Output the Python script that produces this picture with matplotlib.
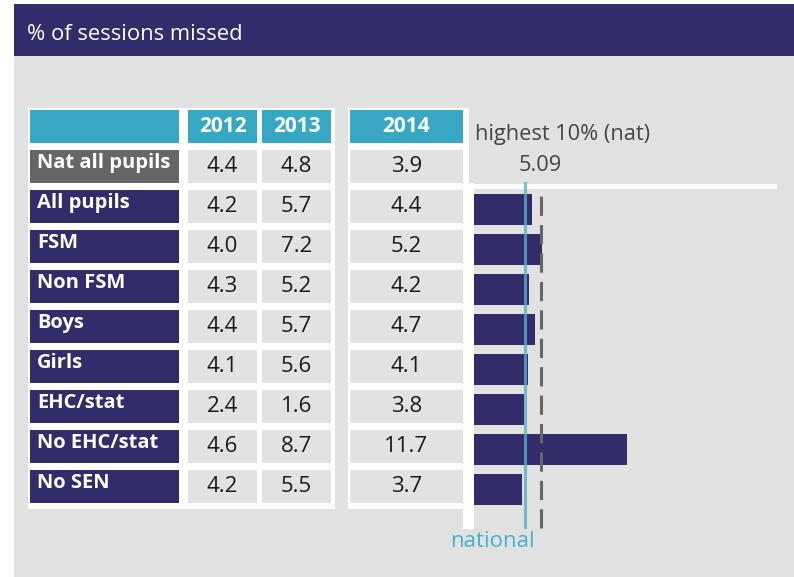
import matplotlib.pyplot as plt
from matplotlib.patches import Rectangle
from matplotlib.transforms import blended_transform_factory

plt.rcParams['font.family'] = ['Open Sans', 'DejaVu Sans']

# data
groups = ['Nat all pupils', 'All pupils', 'FSM', 'Non FSM', 'Boys', 'Girls',
          'EHC/stat', 'No EHC/stat', 'No SEN']
years = ['2012', '2013', '2014']
y2012 = [4.4, 4.2, 4.0, 4.3, 4.4, 4.1, 2.4, 4.6, 4.2]
y2013 = [4.8, 5.7, 7.2, 5.2, 5.7, 5.6, 1.6, 8.7, 5.5]
y2014 = [3.9, 4.4, 5.2, 4.2, 4.7, 4.1, 3.8, 11.7, 3.7]
highest10 = 5.09
national = y2014[0]

navy = '#332c6b'
teal = '#37a8c3'
cellgrey = '#e2e2e2'
bggrey = '#e1e1e1'

W, H = 794, 577
fig = plt.figure(figsize=(W / 100, H / 100), dpi=100)
bg = fig.add_axes([0, 0, 1, 1])
bg.set_xlim(0, W)
bg.set_ylim(H, 0)
bg.axis('off')

def box(x0, y0, x1, y1, color, z=1):
    bg.add_patch(Rectangle((x0, y0), x1 - x0, y1 - y0, facecolor=color,
                           edgecolor='none', zorder=z))

# frame
box(14, 56, W, H, bggrey, 0)
box(14, 4, W, 56, navy, 0)
bg.text(27, 40, '% of sessions missed', color='white', fontsize=15.8, va='baseline')

# white panels
box(28, 108, 335, 509, 'white')
box(348, 108, 469, 509, 'white')
box(463, 183, 474, 529, 'white')
box(469, 184, 777, 189, 'white')

# table
cols = [(188, 257), (262, 331), (350, 463)]
box(30, 110, 179, 143, teal, 2)
for (x0, x1), yr in zip(cols, years):
    box(x0, 110, x1, 143, teal, 2)
    bg.text((x0 + x1) / 2, 132, yr, color='white', fontsize=15,
            fontweight='bold', ha='center', va='baseline', zorder=3)

for i, g in enumerate(groups):
    top = 150 + 40 * i
    box(30, top, 179, top + 33, '#666666' if i == 0 else navy, 2)
    bg.text(37, top + 18, g, color='white', fontsize=14.5, fontweight='bold',
            va='baseline', zorder=3)
    for (x0, x1), vals in zip(cols, [y2012, y2013, y2014]):
        box(x0, top, x1, top + 33, cellgrey, 2)
        bg.text((x0 + x1) / 2, top + 22.5, f'{vals[i]:.1f}', color='#1a1a1a',
                fontsize=16, ha='center', va='baseline', zorder=3)

# bars
ax = fig.add_axes([474 / W, 1 - 529 / H, (777 - 474) / W, (529 - 182) / H])
ax.patch.set_alpha(0)
ax.set_xlim(0, (777 - 474) / 13.08)
ax.set_ylim(7.9875, -0.6875)
ax.axis('off')
ax.barh(range(len(groups) - 1), y2014[1:], height=0.775, color=navy, zorder=1)
ax.axvline(highest10, ymin=0.003, ymax=0.977, color='#666666', lw=2.2,
           dashes=(6.3, 3.0), zorder=2)
ax.axvline(national, ymin=0.003, ymax=1, color='#4fb3cc', lw=2.2, alpha=0.8,
           zorder=3)

tr = blended_transform_factory(ax.transData, bg.transData)
bg.text(475, 140, 'highest 10% (nat)', color='#444444', fontsize=15.7, va='baseline')
ax.text(highest10, 171, f'{highest10}', transform=tr, color='#444444',
        fontsize=15.7, ha='center', va='baseline')
bg.text(535, 547, 'national', color='#45b2ca', fontsize=16, ha='right',
        va='baseline')

fig.savefig('out.png', dpi=100)
